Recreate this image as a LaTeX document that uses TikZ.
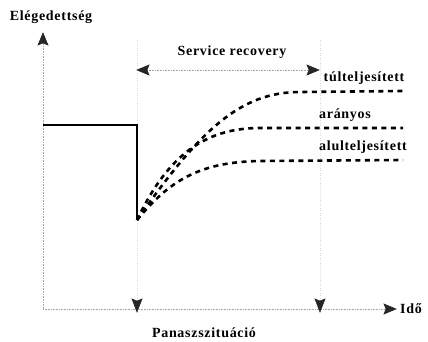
\documentclass[tikz,border=0pt]{standalone}
\usepackage{fontspec}
\setmainfont{Liberation Serif}
\usetikzlibrary{calc}
\tikzset{
  lbl/.style={inner sep=0pt, font=\fontsize{14}{16}\selectfont\bfseries\addfontfeature{LetterSpace=5}},
  axisline/.style={gray!70, densely dotted, line width=0.6pt},
  guide/.style={gray!30, dotted, line width=0.5pt},
  headfill/.style={fill=black!85, draw=black!85, line width=0.6pt, line join=miter},
  curve/.style={black, line width=2.6pt, dash pattern=on 5pt off 4.5pt},
  stepline/.style={black, line width=2.2pt},
}
\begin{document}
\begin{tikzpicture}[x=1pt, y=-1pt]
\useasboundingbox (0,0) rectangle (428,341);
% coordinates
\coordinate (O) at (43,309);
\coordinate (ytop) at (43,33);
\coordinate (xend) at (396,309);
\coordinate (g1top) at (137,40);
\coordinate (g1tip) at (137,312);
\coordinate (g2top) at (320,40);
\coordinate (g2tip) at (320,312);
\coordinate (srl) at (137,70);
\coordinate (srr) at (319,70);
\coordinate (s0) at (43,125);
\coordinate (s1) at (137,125);
\coordinate (dip) at (137,220);
% guides
\draw[guide] (g1top) -- ($(g1tip)+(0,-12)$);
\draw[guide] (g2top) -- ($(g2tip)+(0,-12)$);
% axes
\draw[axisline] (O) -- ($(ytop)+(0,10)$);
\draw[axisline] (O) -- ($(xend)+(-10,0)$);
\filldraw[headfill] (ytop) -- ++(5,12) -- ++(-5,-2) -- ++(-5,2) -- cycle;
\filldraw[headfill] (xend) -- ++(-12,-5) -- ++(2,5) -- ++(-2,5) -- cycle;
\filldraw[headfill] (g1tip) -- ++(-5,-13) -- ++(5,2) -- ++(5,-2) -- cycle;
\filldraw[headfill] (g2tip) -- ++(-5,-13) -- ++(5,2) -- ++(5,-2) -- cycle;
% service recovery arrow
\draw[axisline] ($(srl)+(10,0)$) -- ($(srr)+(-10,0)$);
\filldraw[headfill] (srl) -- ++(12,-5) -- ++(-2,5) -- ++(2,5) -- cycle;
\filldraw[headfill] (srr) -- ++(-12,-5) -- ++(2,5) -- ++(-2,5) -- cycle;
% step
\draw[stepline] (s0) -- (s1) -- (dip);
% curves
\draw[curve] (dip) .. controls (200,130) and (240,92) .. (300,92) -- (403,91);
\draw[curve] (dip) .. controls (170,150) and (210,128) .. (260,128) -- (403,128);
\draw[curve] (dip) .. controls (170,180) and (200,162) .. (260,161) -- (403,160);
% labels
\node[lbl] (ylab) at (51,17) {Elégedettség};
\node[lbl] (sr) at (232,52) {Service recovery};
\node[lbl] (tul) at (364,78) {túlteljesített};
\node[lbl] (ar) at (345,115) {arányos};
\node[lbl] (alul) at (363,147) {alulteljesített};
\node[lbl] (xlab) at (411,309) {Idő};
\node[lbl] (pan) at (204,333) {Panaszszituáció};
\end{tikzpicture}
\end{document}
